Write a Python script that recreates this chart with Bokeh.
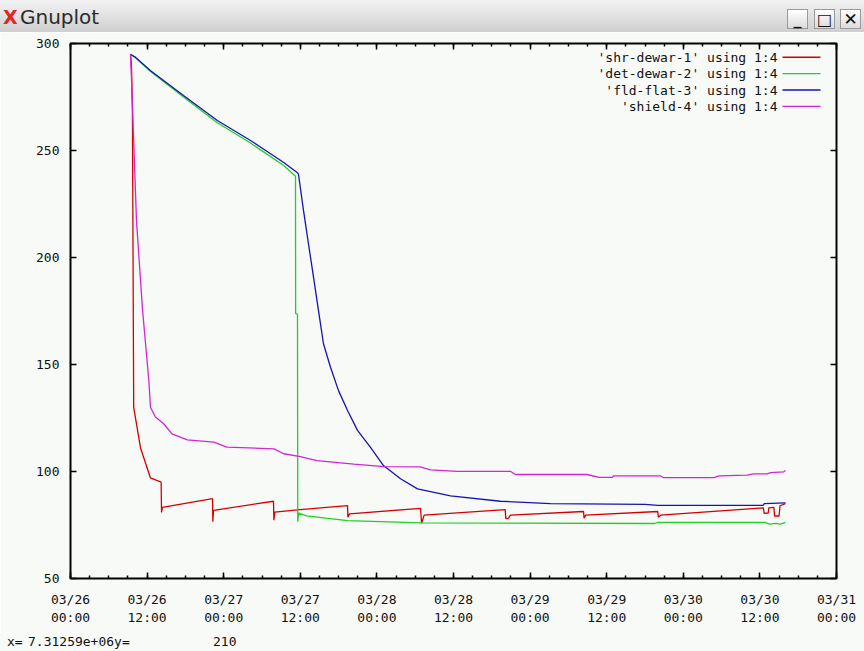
import pandas as pd
from datetime import datetime
from bokeh.plotting import figure
from bokeh.models import (Range1d, FixedTicker, DatetimeTickFormatter, DatetimeAxis,
                          LinearAxis, Label, BoxAnnotation, Div, CustomJSTickFormatter)
from bokeh.layouts import column
from bokeh.embed import file_html
from bokeh.resources import INLINE

# ---------------- data (hours after 2000-03-26 00:00, temperature) ----------------
START = datetime(2000, 3, 26, 0, 0)
END = datetime(2000, 3, 31, 0, 0)

shr_h = [9.40, 9.55, 9.70, 9.90, 10.97, 12.53, 14.10, 14.20, 14.26, 14.40, 22.25, 22.30,
         22.40, 22.70, 31.80, 31.86, 32.00, 35.56, 43.40, 43.46, 43.70, 54.83, 55.00, 55.40,
         68.10, 68.20, 68.60, 68.93, 80.37, 80.45, 80.70, 92.00, 92.08, 92.45, 108.55,
         108.65, 109.30, 109.40, 110.20, 110.30, 111.00, 111.15, 112.00]
shr_v = [295.0, 290.0, 268.0, 130.0, 111.0, 97.0, 95.2, 95.0, 80.9, 83.2, 87.3, 76.5,
         81.8, 82.0, 86.1, 77.2, 81.0, 82.1, 84.1, 78.6, 80.2, 82.8, 75.8, 79.6,
         82.2, 78.0, 78.2, 79.6, 81.3, 78.2, 79.6, 81.3, 78.6, 79.6, 83.0,
         80.5, 80.6, 83.0, 83.2, 79.2, 79.2, 84.0, 85.0]

det_h = [9.40, 10.20, 12.50, 17.70, 23.00, 28.20, 33.40, 35.25, 35.27, 35.56, 35.60, 35.72,
         37.00, 40.00, 43.40, 55.00, 91.50, 92.00, 108.80, 109.50, 110.50, 111.20, 112.00]
det_v = [295.0, 293.3, 287.0, 275.0, 263.0, 253.5, 243.0, 238.0, 173.8, 173.5, 76.5, 80.5,
         79.3, 78.2, 77.0, 76.0, 75.7, 76.2, 76.2, 75.4, 75.8, 75.4, 76.2]

fld_h = [9.40, 10.20, 12.50, 17.70, 23.00, 28.20, 33.40, 35.60, 35.72, 36.50, 37.28, 38.07,
         38.85, 39.63, 40.73, 41.99, 43.40, 44.96, 47.00, 49.03, 51.70, 54.36, 59.53, 67.36,
         75.20, 90.00, 92.00, 108.50, 108.70, 112.00]
fld_v = [295.0, 293.5, 287.4, 275.7, 264.0, 254.7, 244.4, 239.5, 238.8, 222.0, 206.4, 190.8,
         175.2, 159.7, 148.7, 137.8, 128.5, 119.2, 111.3, 102.8, 96.6, 91.9, 88.6, 86.1,
         85.0, 84.6, 84.2, 84.2, 85.0, 85.3]

shd_h = [9.40, 9.60, 10.34, 11.30, 12.27, 12.53, 13.30, 14.60, 15.90, 18.30, 22.45, 24.50,
         31.90, 33.40, 36.00, 38.60, 44.40, 49.10, 54.80, 56.40, 60.60, 68.90, 69.70, 80.90,
         82.80, 84.90, 85.10, 92.40, 92.90, 100.80, 101.60, 106.00, 107.00, 109.10, 109.70,
         111.70, 112.00]
shd_v = [295.0, 280.0, 217.0, 175.0, 142.5, 130.0, 125.5, 122.3, 117.6, 114.8, 113.7, 111.4,
         110.6, 108.3, 107.0, 105.1, 103.4, 102.3, 102.2, 100.8, 100.1, 100.1, 98.6, 98.6,
         97.3, 97.3, 98.0, 98.0, 97.1, 97.1, 98.0, 98.3, 98.9, 98.9, 99.5,
         99.8, 100.5]

series_names = ["shr-dewar-1", "det-dewar-2", "fld-flat-3", "shield-4"]
series_colors = ["#d40000", "#22d022", "#1414b4", "#d424d4"]
series_hours = [shr_h, det_h, fld_h, shd_h]
series_vals = [shr_v, det_v, fld_v, shd_v]

x_major_hours = list(range(0, 121, 12))
x_minor_hours = list(range(0, 121, 3))
y_ticks = [50, 100, 150, 200, 250, 300]

status_x = "7.31259e+06y="
status_y = "210"

# ---------------- helpers ----------------
def to_time(hours):
    return (pd.Timestamp(START) + pd.to_timedelta(hours, unit="h")).to_numpy()

def to_ms(h):
    return (pd.Timestamp(START) + pd.Timedelta(hours=h)).value / 1e6

BG = "#f8faf7"
FONT = "DejaVu Sans Mono"
W = 864

p = figure(width=W, height=601, x_axis_type="datetime",
           x_range=Range1d(START, END), y_range=Range1d(50, 300),
           output_backend="svg", toolbar_location=None,
           min_border_left=70, min_border_right=28, min_border_top=11, min_border_bottom=55,
           background_fill_color=BG, border_fill_color=BG,
           outline_line_color="black", outline_line_width=2)
p.xgrid.visible = False
p.ygrid.visible = False

xt = FixedTicker(ticks=[to_ms(h) for h in x_major_hours],
                 minor_ticks=[to_ms(h) for h in x_minor_hours])
yt = FixedTicker(ticks=y_ticks, minor_ticks=[])
fmt = "%m/%d\n%H:%M"
xfmt = DatetimeTickFormatter(microseconds=fmt, milliseconds=fmt, seconds=fmt, minsec=fmt,
                             minutes=fmt, hourmin=fmt, hours=fmt, days=fmt, months=fmt,
                             years=fmt)
blank = CustomJSTickFormatter(code="return ''")


def style_axis(ax, labels=True):
    ax.axis_line_color = None
    ax.major_tick_in = 6
    ax.major_tick_out = 0
    ax.minor_tick_in = 3
    ax.minor_tick_out = 0
    ax.major_tick_line_color = "black"
    ax.minor_tick_line_color = "black"
    ax.major_tick_line_width = 1.5
    ax.minor_tick_line_width = 1.5
    ax.major_label_text_font = FONT
    ax.major_label_text_font_size = "13px"
    ax.major_label_text_color = "#111111"
    if not labels:
        ax.major_label_text_font_size = "0px"
        ax.major_label_standoff = 0


xa = p.xaxis[0]
xa.ticker = xt
xa.formatter = xfmt
style_axis(xa)
xa.major_label_text_line_height = 1.2
xa.major_label_standoff = 13

ya = p.yaxis[0]
ya.ticker = yt
style_axis(ya)
ya.major_label_standoff = 11

top = DatetimeAxis(ticker=xt, formatter=blank)
style_axis(top, labels=False)
p.add_layout(top, "above")

right = LinearAxis(ticker=yt, formatter=blank)
style_axis(right, labels=False)
p.add_layout(right, "right")

for hrs, vals, col in zip(series_hours, series_vals, series_colors):
    p.line(to_time(hrs), vals, line_color=col, line_width=1.3)

# manual gnuplot-style key (text right-aligned, sample to the right)
for i, (name, col) in enumerate(zip(series_names, series_colors)):
    yy = 521.3 - i * 16.4
    p.add_layout(Label(x=707, y=yy, x_units="screen", y_units="screen",
                       text=f"'{name}' using 1:4", text_align="right",
                       text_baseline="middle", text_font=FONT,
                       text_font_size="13px", text_color="#111111"))
    p.add_layout(BoxAnnotation(left=712, right=750, top=yy + 0.7, bottom=yy - 0.7,
                               left_units="screen", right_units="screen",
                               top_units="screen", bottom_units="screen",
                               fill_color=col, fill_alpha=1.0, line_color=None))

# ---------------- window chrome ----------------
btn = ('position:absolute;top:9px;width:21px;height:20px;border:1px solid #9a9a9a;'
       'background:linear-gradient(#ffffff,#dcdcdc);text-align:center;'
       'font-family:\'DejaVu Sans\',sans-serif;font-weight:bold;color:#111;line-height:19px;')
bar_html = (
    f'<div style="position:relative;width:{W}px;height:32px;overflow:hidden;'
    'background:linear-gradient(#f3f3f3,#cfcfcf);font-family:\'DejaVu Sans\',sans-serif;">'
    '<span style="position:absolute;left:3px;top:4px;font-size:19px;font-weight:bold;'
    'color:#e3261f;">X</span>'
    '<span style="position:absolute;left:20px;top:3px;font-size:20px;color:#2b2b2b;">Gnuplot</span>'
    f'<div style="{btn}left:787px;font-size:16px;">_</div>'
    f'<div style="{btn}left:814px;font-size:16px;">□</div>'
    f'<div style="{btn}left:840px;font-size:17px;">✕</div>'
    '</div>')
bar = Div(text=bar_html, width=W, height=32, margin=(0, 0, 0, 0))

status_html = (
    f'<div style="position:relative;width:{W}px;height:18px;background:{BG};'
    'font-family:\'DejaVu Sans Mono\',monospace;font-size:13px;color:#111;line-height:14px;">'
    '<span style="position:absolute;left:7px;top:2px;">x=</span>'
    f'<span style="position:absolute;left:28px;top:2px;">{status_x}</span>'
    f'<span style="position:absolute;left:213px;top:2px;">{status_y}</span>'
    '</div>')
status = Div(text=status_html, width=W, height=18, margin=(0, 0, 0, 0))

layout = column(bar, p, status, spacing=0)
open("out.html", "w").write(file_html(layout, INLINE))
